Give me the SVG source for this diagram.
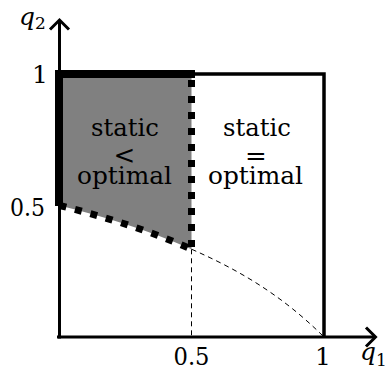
<svg xmlns="http://www.w3.org/2000/svg" width="386" height="370" viewBox="0 0 386 370">
<style>
text{font-family:'DejaVu Serif',serif;fill:#000}
.lbl{font-size:25px}
.it{font-style:italic;font-size:25px}
.sub{font-size:17px}
.rel{font-size:26px}
.thin{fill:none;stroke:#000;stroke-width:3.5}
.axis{fill:none;stroke:#000;stroke-width:3}
.thick{fill:none;stroke:#000;stroke-width:8}
.dots{fill:none;stroke:#000;stroke-width:7;stroke-dasharray:7 9}
.dash{fill:none;stroke:#000;stroke-width:1;stroke-dasharray:5 4}
</style>
<rect width="386" height="370" fill="#fff"/>
<g id="region-static-less">
<path d="M59.5,74 H191.5 V249.3 C147.67,229.82 103.58,216.46 59.5,205.5 Z" fill="#808080"/>
<text class="lbl" x="125" y="136" text-anchor="middle" textLength="68" lengthAdjust="spacingAndGlyphs">static</text>
<text class="rel" x="124.5" y="164" text-anchor="middle">&lt;</text>
<text class="lbl" x="124.5" y="184" text-anchor="middle" textLength="95" lengthAdjust="spacingAndGlyphs">optimal</text>
</g>
<g id="region-static-equal">
<text class="lbl" x="257" y="136" text-anchor="middle" textLength="68" lengthAdjust="spacingAndGlyphs">static</text>
<text class="rel" x="256" y="165" text-anchor="middle">=</text>
<text class="lbl" x="255.5" y="184" text-anchor="middle" textLength="95" lengthAdjust="spacingAndGlyphs">optimal</text>
</g>
<g id="connectors">
<path class="thin" d="M191.5,74 H324 V337"/>
<path class="dash" d="M191.5,249.3 V337"/>
<path class="dash" d="M191.75,249.3 C235.83,268.78 279.92,293.17 324,337"/>
<path class="axis" d="M57,337 H375"/>
<path class="axis" d="M366,327.5 L375.5,337 L366,346.5"/>
<path class="axis" d="M59.5,338.5 V20"/>
<path class="axis" d="M50,29.5 L59.5,20 L69,29.5"/>
<path class="thick" d="M59,206 V74 H195"/>
<path class="dots" d="M191.5,80 V249.3"/>
<path class="dots" d="M59.5,205.5 C103.58,216.46 147.67,229.82 191.75,249.3"/>
</g>
<g id="labels">
<text class="lbl" x="40" y="83" text-anchor="middle">1</text>
<text class="lbl" x="27.5" y="216" text-anchor="middle" textLength="35" lengthAdjust="spacingAndGlyphs">0.5</text>
<text class="lbl" x="191.5" y="365" text-anchor="middle" textLength="36" lengthAdjust="spacingAndGlyphs">0.5</text>
<text class="lbl" x="323" y="365" text-anchor="middle">1</text>
<text class="it" x="360" y="360">q</text>
<text class="sub" x="376" y="366">1</text>
<text class="it" x="19" y="25">q</text>
<text class="sub" x="35" y="29">2</text>
</g>
</svg>
